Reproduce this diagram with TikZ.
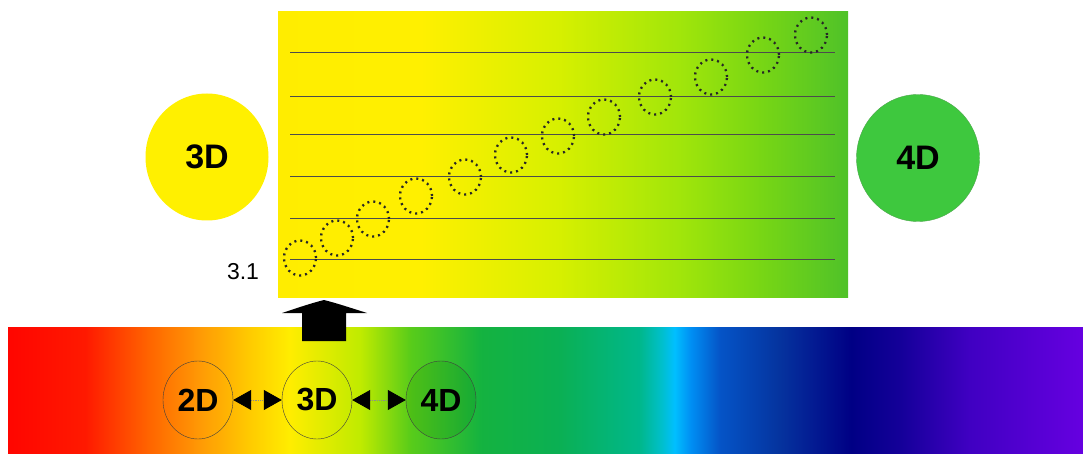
\documentclass[tikz,border=0pt]{standalone}
\usepackage{fontspec}
\setmainfont{Liberation Sans}
\usetikzlibrary{shapes.geometric, arrows.meta, positioning}

\definecolor{discyellow}{RGB}{255,240,0}
\definecolor{discgreen}{RGB}{62,200,62}

% colour band (stops between 25bp and 75bp cover the path)
\pgfdeclarehorizontalshading{spectrum}{100bp}{%
  rgb(0bp)=(1,0.02,0); rgb(25bp)=(1,0.02,0); rgb(28.6bp)=(1,0.1,0);
  rgb(31.6bp)=(1,0.4,0); rgb(33.9bp)=(1,0.6,0.02); rgb(36.3bp)=(1,0.8,0); rgb(38.1bp)=(1,0.93,0);
  rgb(41.4bp)=(0.75,0.92,0); rgb(43.7bp)=(0.35,0.8,0.1); rgb(47bp)=(0.08,0.7,0.25);
  rgb(50.7bp)=(0.04,0.69,0.33); rgb(54.4bp)=(0,0.72,0.55); rgb(55.4bp)=(0,0.75,0.8);
  rgb(56bp)=(0,0.75,1); rgb(56.8bp)=(0,0.55,0.95); rgb(58.1bp)=(0.02,0.33,0.78);
  rgb(60.9bp)=(0.02,0.2,0.62); rgb(64.2bp)=(0,0,0.52); rgb(66.5bp)=(0.08,0,0.6);
  rgb(69.7bp)=(0.25,0,0.76); rgb(75bp)=(0.4,0,0.88); rgb(100bp)=(0.4,0,0.88)}

% yellow to green plane
\pgfdeclarehorizontalshading{plane}{100bp}{%
  rgb(0bp)=(1,0.93,0); rgb(25bp)=(1,0.93,0); rgb(37.5bp)=(1,0.94,0);
  rgb(49.7bp)=(0.84,0.94,0); rgb(60.3bp)=(0.63,0.9,0.04); rgb(67.3bp)=(0.47,0.84,0.08);
  rgb(75bp)=(0.31,0.76,0.16); rgb(100bp)=(0.31,0.76,0.16)}

\begin{document}
\begin{tikzpicture}[x=1pt, y=-1pt,
        bigdisc/.style={ellipse, inner sep=0pt, minimum width=123pt, minimum height=127pt, font=\fontsize{34}{36}\selectfont\bfseries},
        smalldisc/.style={ellipse, draw=black!75, thin, inner sep=0pt, minimum width=70pt, minimum height=78pt, font=\fontsize{32}{34}\selectfont\bfseries},
        loop/.style={ellipse, draw=black!85, line width=2.3pt, dash pattern=on 2pt off 4pt, minimum width=32pt, minimum height=35pt, inner sep=0pt},
        track/.style={draw=black!70, line width=1pt},
        dimlink/.style={{Triangle[length=18pt, width=20pt, color=black]}-{Triangle[length=18pt, width=20pt, color=black]}, densely dotted, draw=black!45, line width=0.8pt}
    ]
        % Canvas
        \fill[white] (0,0) rectangle (1083,454);
        \useasboundingbox (0,0) rectangle (1083,454);

        % Colour band (bottom)
        \node[shading=spectrum, minimum width=1075pt, minimum height=127pt, inner sep=0pt] (band) at (545.5,390.5) {};

        % Plane with tracks
        \node[shading=plane, minimum width=570pt, minimum height=285pt, inner sep=0pt] (plane) at (563,154.5) {};
        \draw[track] (290,53) -- (835,53);
        \draw[track] (290,97) -- (835,97);
        \draw[track] (290,135) -- (835,135);
        \draw[track] (290,177) -- (835,177);
        \draw[track] (290,219) -- (835,219);
        \draw[track] (290,259) -- (835,259);

        % Dotted loops
        \node[loop] (loop1) at (300,258) {};
        \node[loop] (loop2) at (337,238) {};
        \node[loop] (loop3) at (373,219) {};
        \node[loop] (loop4) at (416,196) {};
        \node[loop] (loop5) at (465,177) {};
        \node[loop] (loop6) at (511,155) {};
        \node[loop] (loop7) at (558,136) {};
        \node[loop] (loop8) at (604,117) {};
        \node[loop] (loop9) at (655,97) {};
        \node[loop] (loop10) at (711,77) {};
        \node[loop] (loop11) at (763,55) {};
        \node[loop] (loop12) at (811,35) {};
        \node[font=\fontsize{23}{25}\selectfont] (lbl31) at (243,272) {3.1};

        % Side discs
        \node[bigdisc, fill=discyellow] (disc3) at (207,157) {3D};
        \node[bigdisc, fill=discgreen, draw=green!50!black!70, thin] (disc4) at (918,158) {4D};

        % Discs on the band
        \node[smalldisc] (dim2) at (198,400) {2D};
        \node[smalldisc] (dim3) at (317,400) {3D};
        \node[smalldisc, fill=green!40!black, fill opacity=0.12, text opacity=1] (dim4) at (441,400) {4D};
        \draw[dimlink] (dim2.east) -- (dim3.west);
        \draw[dimlink] (dim3.east) -- (dim4.west);

        % Block arrow up into the plane
        \fill[black] (302,341) -- (302,313) -- (282,313) .. controls (300,307) and (312,303) .. (324,300)
            .. controls (336,303) and (348,307) .. (367,313) -- (346,313) -- (346,341) -- cycle;
\end{tikzpicture}
\end{document}
